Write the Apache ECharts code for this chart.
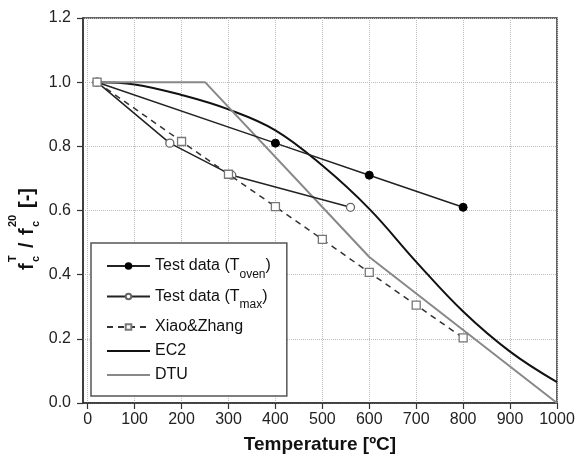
<!DOCTYPE html>
<html>
<head>
<meta charset="utf-8">
<script src="https://cdn.jsdelivr.net/npm/echarts@6/dist/echarts.min.js"></script>
<style>html,body{margin:0;padding:0;background:#fff}#c{width:578px;height:469px}</style>
</head>
<body>
<div id="c"></div>
<script>
// ---- data ----
var xTickValues = [0,100,200,300,400,500,600,700,800,900,1000];
var tovenT = [20, 400, 600, 800];
var tovenV = [1.0, 0.81, 0.71, 0.61];
var tmaxT = [20, 175, 307, 560];
var tmaxV = [1.0, 0.81, 0.71, 0.61];
var xiaoT = [20, 200, 300, 400, 500, 600, 700, 800];
var xiaoV = [1.0, 0.815, 0.713, 0.612, 0.51, 0.407, 0.305, 0.203];
var ec2T = [20, 100, 200, 300, 400, 500, 600, 700, 800, 900, 1000];
var ec2V = [1.0, 0.993, 0.96, 0.915, 0.85, 0.74, 0.605, 0.44, 0.285, 0.16, 0.065];
var dtuT = [20, 250, 600, 1000];
var dtuV = [1.0, 1.0, 0.455, 0.0];
var seriesNames = ['Test data (Toven)', 'Test data (Tmax)', 'Xiao&Zhang', 'EC2', 'DTU'];

function pairs(a, b) { return a.map(function (v, i) { return [v, b[i]]; }); }

var FONT = 'Liberation Sans, Arial, sans-serif';
var chart = echarts.init(document.getElementById('c'), null, {renderer: 'canvas'});

var legendText = {
  'Test data (Toven)': 'Test data (T{s|oven})',
  'Test data (Tmax)': 'Test data (T{s|max})',
  'Xiao&Zhang': 'Xiao&Zhang',
  'EC2': 'EC2',
  'DTU': 'DTU'
};

var titleColor = '#111';
chart.setOption({
  animation: false,
  backgroundColor: '#fff',
  grid: {left: 83, right: 21, top: 18, bottom: 66, show: true, borderColor: '#333', borderWidth: 1.5, backgroundColor: 'transparent'},
  xAxis: {
    type: 'value', min: -10, max: 1000,
    name: 'Temperature [ºC]', nameLocation: 'middle', nameGap: 32,
    nameTextStyle: {fontFamily: FONT, fontSize: 19, fontWeight: 'bold', color: titleColor},
    axisLine: {show: true, onZero: false, lineStyle: {color: '#333', width: 1.5}},
    axisTick: {show: true, length: 6, customValues: xTickValues, lineStyle: {color: '#333', width: 1.2}},
    axisLabel: {customValues: xTickValues, margin: 9, fontFamily: FONT, fontSize: 16, color: '#222', formatter: function (v) { return String(v); }},
    splitLine: {show: true, lineStyle: {type: 'dotted', color: '#bbb', width: 1}}
  },
  yAxis: {
    type: 'value', min: 0, max: 1.2, interval: 0.2,
    axisLine: {show: true, onZero: false, lineStyle: {color: '#333', width: 1.5}},
    axisTick: {show: true, length: 6, lineStyle: {color: '#333', width: 1.2}},
    axisLabel: {margin: 12, fontFamily: FONT, fontSize: 16, color: '#222', formatter: function (v) { return v.toFixed(1); }},
    splitLine: {show: true, lineStyle: {type: 'dotted', color: '#bbb', width: 1}}
  },
  legend: {
    orient: 'vertical', left: 91, top: 243,
    data: [
      {name: seriesNames[0]},
      {name: seriesNames[1]},
      {name: seriesNames[2]},
      {name: seriesNames[3], itemStyle: {opacity: 0}},
      {name: seriesNames[4], itemStyle: {opacity: 0}}
    ],
    itemWidth: 43, itemHeight: 7, itemGap: 8,
    padding: [15, 16, 13, 15],
    backgroundColor: '#fff', borderColor: '#555', borderWidth: 1.5, borderRadius: 0,
    formatter: function (n) { return legendText[n]; },
    textStyle: {fontFamily: FONT, fontSize: 16, color: '#111',
      rich: {s: {fontFamily: FONT, fontSize: 12, color: '#111', verticalAlign: 'bottom', lineHeight: 29}}}
  },
  graphic: [{
    type: 'group', x: 33, y: 270, rotation: Math.PI / 2,
    children: [
      {type: 'text', x: 0, y: 4, style: {text: 'f', fontFamily: FONT, fontSize: 20, fontWeight: 'bold', fill: titleColor, verticalAlign: 'bottom'}},
      {type: 'text', x: 8, y: -15, style: {text: 'T', fontFamily: FONT, fontSize: 11, fontWeight: 'bold', fill: titleColor, verticalAlign: 'bottom'}},
      {type: 'text', x: 8, y: 8, style: {text: 'c', fontFamily: FONT, fontSize: 11, fontWeight: 'bold', fill: titleColor, verticalAlign: 'bottom'}},
      {type: 'text', x: 22, y: 4, style: {text: '/', fontFamily: FONT, fontSize: 20, fontWeight: 'bold', fill: titleColor, verticalAlign: 'bottom'}},
      {type: 'text', x: 35, y: 4, style: {text: 'f', fontFamily: FONT, fontSize: 20, fontWeight: 'bold', fill: titleColor, verticalAlign: 'bottom'}},
      {type: 'text', x: 43, y: -15, style: {text: '20', fontFamily: FONT, fontSize: 11, fontWeight: 'bold', fill: titleColor, verticalAlign: 'bottom'}},
      {type: 'text', x: 43, y: 8, style: {text: 'c', fontFamily: FONT, fontSize: 11, fontWeight: 'bold', fill: titleColor, verticalAlign: 'bottom'}},
      {type: 'text', x: 62, y: 4, style: {text: '[-]', fontFamily: FONT, fontSize: 20, fontWeight: 'bold', fill: titleColor, verticalAlign: 'bottom'}}
    ]
  }],
  series: [
    {name: seriesNames[3], type: 'line', data: pairs(ec2T, ec2V), smooth: 0.4, symbol: 'none',
      lineStyle: {color: '#111', width: 2}, itemStyle: {color: '#111'}, z: 2},
    {name: seriesNames[4], type: 'line', data: pairs(dtuT, dtuV), symbol: 'none',
      lineStyle: {color: '#888', width: 2}, itemStyle: {color: '#888'}, z: 2},
    {name: seriesNames[0], type: 'line', data: pairs(tovenT, tovenV), symbol: 'circle', symbolSize: 8,
      lineStyle: {color: '#222', width: 1.5}, itemStyle: {color: '#000', borderColor: '#000', borderWidth: 1}, z: 3},
    {name: seriesNames[1], type: 'line', data: pairs(tmaxT, tmaxV), symbol: 'circle', symbolSize: 8,
      lineStyle: {color: '#222', width: 1.5}, itemStyle: {color: '#fff', borderColor: '#666', borderWidth: 1.3}, z: 4},
    {name: seriesNames[2], type: 'line', data: pairs(xiaoT, xiaoV), symbol: 'rect', symbolSize: 8,
      lineStyle: {color: '#333', width: 1.5, type: [6, 5]}, itemStyle: {color: '#fff', borderColor: '#777', borderWidth: 1.3}, z: 5}
  ]
});
</script>
</body>
</html>
